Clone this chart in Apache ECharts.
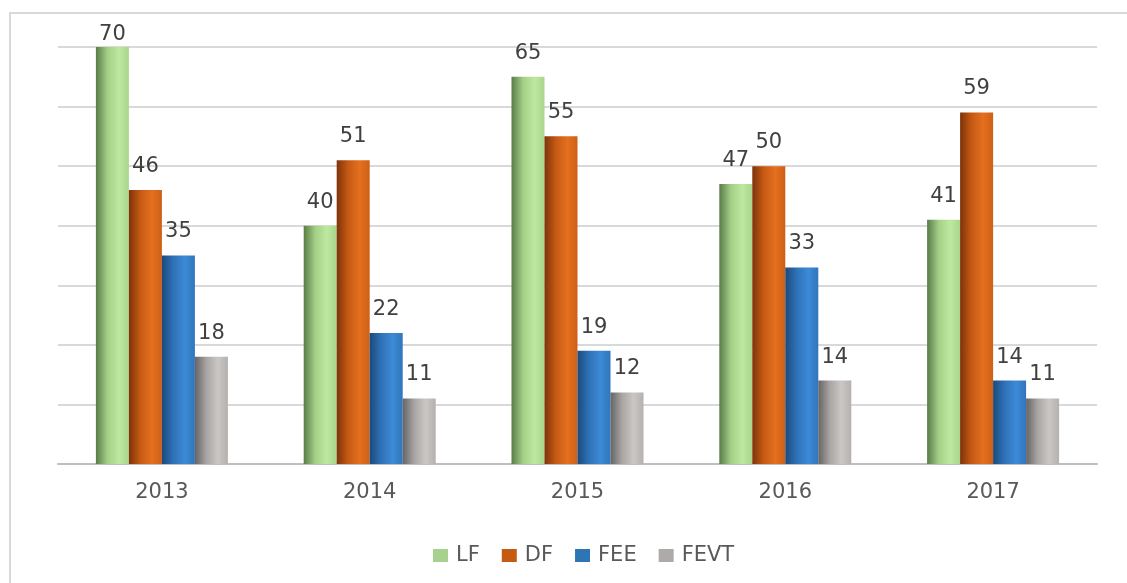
<!DOCTYPE html>
<html>
<head>
<meta charset="utf-8">
<script src="https://cdn.jsdelivr.net/npm/echarts@6/dist/echarts.min.js"></script>
<style>
html,body{margin:0;padding:0;background:#fff;}
#chart{width:1127px;height:583px;}
</style>
</head>
<body>
<div id="chart"></div>
<script>
const categories = ['2013', '2014', '2015', '2016', '2017'];
const seriesNames = ['LF', 'DF', 'FEE', 'FEVT'];
const LF = [70, 40, 65, 47, 41];
const DF = [46, 51, 55, 50, 59];
const FEE = [35, 22, 19, 33, 14];
const FEVT = [18, 11, 12, 14, 11];
const yTicks = [0, 10, 20, 30, 40, 50, 60, 70];

const legendColors = ['#a9d18e', '#c55a11', '#2e75b6', '#aeaaaa'];
const gradStops = [
  ['#5b7b47', '#a3cf86', '#bde8a0', '#a8d68a'],
  ['#7e330a', '#c65a14', '#e4701f', '#cf5f15'],
  ['#1b4a7c', '#2f72b8', '#3c8ad6', '#3076bd'],
  ['#666464', '#a9a5a4', '#cbc7c5', '#b4b0ae']
];
function grad(i) {
  const s = gradStops[i];
  return new echarts.graphic.LinearGradient(0, 0, 1, 0, [
    {offset: 0, color: s[0]},
    {offset: 0.35, color: s[1]},
    {offset: 0.7, color: s[2]},
    {offset: 1, color: s[3]}
  ]);
}
const dataSets = [LF, DF, FEE, FEVT];
const fontFamily = '"DejaVu Sans", "Open Sans", sans-serif';
const yMax = yTicks[yTicks.length - 1];

const chart = echarts.init(document.getElementById('chart'));
chart.setOption({
  backgroundColor: '#fff',
  animation: false,
  textStyle: {fontFamily: fontFamily},
  graphic: [
    {type: 'polyline', shape: {points: [[10, 583], [10, 13], [1127, 13]]},
     style: {stroke: '#d9d9d9', lineWidth: 2, fill: null}}
  ],
  legend: {
    data: seriesNames.map((n, i) => ({name: n, itemStyle: {color: legendColors[i]}})),
    top: 540,
    left: 428,
    icon: 'rect',
    itemWidth: 15,
    itemHeight: 13,
    itemGap: 22,
    textStyle: {fontSize: 21, color: '#595959', fontFamily: fontFamily, padding: [0, 0, 0, 3]}
  },
  grid: {left: 58, right: 30, top: 47, bottom: 119, containLabel: false},
  xAxis: {
    type: 'category',
    data: categories,
    axisLine: {lineStyle: {color: '#bfbfbf', width: 2}},
    axisTick: {show: false},
    axisLabel: {fontSize: 21, color: '#595959', margin: 18, fontFamily: fontFamily}
  },
  yAxis: {
    type: 'value',
    min: yTicks[0],
    max: yMax,
    interval: 10,
    axisLabel: {show: false},
    axisLine: {show: false},
    axisTick: {show: false},
    splitLine: {lineStyle: {color: '#d9d9d9', width: 2}}
  },
  series: seriesNames.map((n, i) => ({
    name: n,
    type: 'bar',
    // labels near the top of the plot are pushed down so they stay inside the chart
    data: dataSets[i].map(v => v >= yMax - 2 ? {value: v, label: {distance: 2}} : v),
    barWidth: 33,
    barGap: '0%',
    itemStyle: {color: grad(i)},
    label: {show: true, position: 'top', distance: 13, fontSize: 21, color: '#404040', fontFamily: fontFamily}
  }))
});
</script>
</body>
</html>
